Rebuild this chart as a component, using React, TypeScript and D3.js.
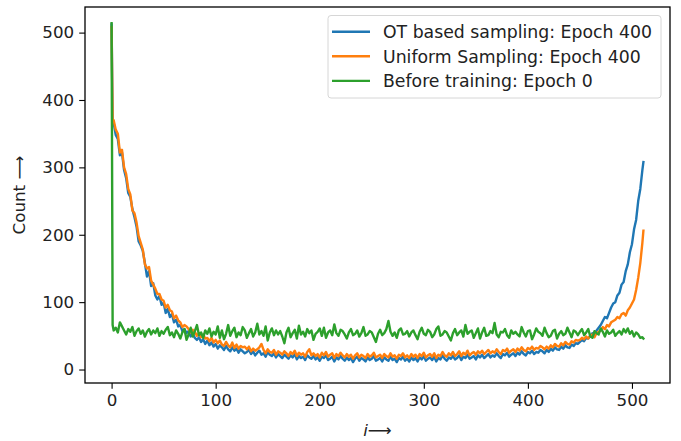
import * as d3 from 'd3';
import React, { useEffect, useRef } from 'react';

// sample positions (bin index i): 0, 1, 2, 4, ..., 510, 511
const xs = [0, 1, ...d3.range(2, 512, 2), 511];

const otSampling = [
  512, 372,
  366, 348, 342, 318, 322, 296, 284, 262, 256, 238, 226, 212, 190, 184, 176, 158,
  138, 146, 124, 128, 110, 104, 109, 96, 99, 84, 90, 78, 82, 70, 74, 64,
  66, 57, 60, 54, 57, 49, 53, 47, 44, 48, 41, 45, 38, 43, 36, 40,
  34, 38, 31, 36, 33, 29, 35, 30, 27, 33, 28, 31, 25, 30, 27, 24,
  26, 29, 23, 27, 21, 25, 28, 22, 24, 19, 26, 22, 20, 24, 18, 23,
  20, 17, 22, 19, 16, 21, 18, 23, 15, 20, 17, 19, 14, 21, 18, 16,
  20, 15, 18, 13, 19, 17, 21, 14, 16, 19, 12, 18, 15, 20, 16, 13,
  18, 14, 17, 11, 16, 19, 13, 17, 15, 12, 18, 14, 16, 20, 13, 15,
  17, 12, 18, 15, 13, 19, 14, 16, 11, 17, 15, 19, 13, 16, 12, 18,
  14, 17, 12, 18, 15, 20, 13, 16, 18, 14, 19, 12, 17, 15, 21, 16,
  13, 18, 16, 20, 15, 17, 21, 14, 19, 17, 22, 16, 18, 20, 15, 21,
  18, 22, 17, 20, 23, 18, 21, 19, 24, 20, 17, 23, 21, 25, 19, 22,
  24, 20, 25, 22, 27, 23, 21, 26, 24, 28, 23, 26, 25, 29, 27, 24,
  29, 26, 31, 28, 33, 30, 29, 34, 31, 36, 33, 32, 37, 35, 39, 38,
  41, 44, 42, 47, 46, 50, 54, 52, 58, 62, 66, 72, 78, 76, 84, 92,
  98, 100, 110, 114, 126, 130, 146, 156, 174, 186, 208, 222, 250, 268, 296,
  308,
];

const uniformSampling = [
  508, 368,
  370, 356, 350, 322, 326, 300, 290, 268, 260, 236, 232, 218, 198, 188, 178, 156,
  150, 152, 132, 126, 120, 112, 112, 104, 102, 92, 96, 88, 86, 76, 80, 73,
  70, 63, 66, 64, 60, 55, 59, 56, 50, 54, 48, 52, 46, 47, 42, 47,
  40, 44, 39, 43, 37, 35, 41, 36, 33, 40, 32, 37, 31, 35, 33, 34,
  30, 34, 27, 31, 28, 30, 33, 38, 29, 24, 30, 26, 25, 29, 22, 27,
  25, 22, 27, 24, 20, 26, 23, 28, 20, 25, 22, 24, 19, 26, 30, 21,
  24, 20, 23, 18, 25, 21, 26, 19, 22, 24, 17, 23, 20, 25, 21, 18,
  23, 19, 22, 16, 21, 24, 18, 22, 20, 17, 23, 19, 21, 25, 18, 20,
  22, 17, 23, 20, 18, 24, 19, 21, 16, 22, 20, 24, 18, 21, 17, 23,
  19, 22, 17, 23, 20, 25, 18, 21, 23, 19, 24, 17, 22, 20, 26, 21,
  19, 24, 21, 26, 20, 23, 27, 20, 25, 22, 28, 21, 24, 26, 22, 27,
  24, 28, 23, 26, 29, 24, 27, 25, 30, 26, 23, 29, 27, 31, 25, 28,
  30, 26, 31, 28, 33, 29, 27, 32, 30, 34, 29, 32, 31, 35, 33, 30,
  34, 31, 36, 33, 38, 35, 34, 39, 36, 41, 38, 37, 42, 40, 44, 43,
  44, 47, 45, 49, 46, 50, 52, 48, 54, 56, 58, 63, 60, 66, 64, 70,
  72, 74, 78, 76, 82, 84, 80, 88, 92, 98, 104, 118, 136, 158, 188,
  206,
];

const beforeTraining = [
  514, 66,
  58, 62, 55, 70, 64, 58, 52, 60, 56, 63, 50, 57, 61, 53, 58, 49,
  56, 60, 52, 58, 54, 61, 50, 57, 53, 59, 63, 51, 55, 48, 58, 53,
  46, 55, 60, 44, 52, 62, 49, 57, 66, 51, 55, 47, 58, 53, 61, 49,
  56, 52, 64, 47, 58, 45, 53, 66, 50, 57, 62, 48, 55, 51, 63, 58,
  47, 54, 60, 49, 55, 68, 52, 57, 50, 64, 43, 55, 61, 51, 58, 52,
  57, 49, 39, 55, 62, 48, 54, 59, 46, 65, 52, 56, 49, 60, 54, 58,
  44, 53, 56, 61, 50, 62, 47, 55, 58, 51, 67, 54, 50, 59, 57, 52,
  46, 55, 60, 51, 53, 58, 49, 54, 63, 50, 52, 57, 55, 48, 41, 53,
  59, 51, 54, 60, 72, 56, 50, 55, 47, 58, 61, 52, 53, 57, 49, 55,
  58, 51, 45, 56, 62, 53, 51, 59, 56, 48, 52, 60, 64, 50, 52, 57,
  55, 49, 43, 54, 60, 51, 55, 58, 49, 66, 53, 56, 58, 47, 54, 61,
  46, 55, 62, 50, 51, 57, 54, 69, 52, 48, 56, 55, 60, 51, 47, 58,
  53, 56, 52, 49, 63, 55, 49, 57, 58, 45, 52, 61, 56, 54, 50, 62,
  54, 48, 50, 57, 59, 46, 53, 57, 51, 53, 62, 55, 48, 58, 56, 51,
  56, 60, 51, 55, 60, 49, 47, 57, 54, 52, 61, 56, 49, 58, 53, 55,
  59, 50, 54, 57, 52, 60, 55, 61, 53, 57, 49, 55, 52, 47, 48,
  46,
];

const seriesNames = [
  'OT based sampling: Epoch 400',
  'Uniform Sampling: Epoch 400',
  'Before training: Epoch 0',
];
const seriesColors = ['#1f77b4', '#ff7f0e', '#2ca02c'];
const xTicks = [0, 100, 200, 300, 400, 500];
const yTicks = [0, 100, 200, 300, 400, 500];

const W = 681;
const H = 441;
const FONT = '"DejaVu Sans", sans-serif';
const FS = 16.7;
const LEGEND_FS = 17.3;

export default function App() {
  const ref = useRef<SVGSVGElement>(null);

  useEffect(() => {
    const svg = d3.select(ref.current);
    svg.selectAll('*').remove();

    const left = 85, right = 670, top = 7, bottom = 383;

    const x = d3.scaleLinear().domain([-25.55, 536.55]).range([left, right]);
    const y = d3.scaleLinear().domain([-20, 538]).range([bottom, top]);

    const series = [otSampling, uniformSampling, beforeTraining];

    const line = d3.line<[number, number]>()
      .x(d => x(d[0]))
      .y(d => y(d[1]));

    series.forEach((vals, k) => {
      const n = Math.min(vals.length, xs.length);
      const pts: [number, number][] = vals.slice(0, n).map((v, j) => [xs[j], v]);
      svg.append('path')
        .attr('d', line(pts))
        .attr('fill', 'none')
        .attr('stroke', seriesColors[k])
        .attr('stroke-width', 2.4)
        .attr('stroke-linejoin', 'round')
        .attr('stroke-linecap', 'square');
    });

    // axes
    const xAxis = svg.append('g')
      .attr('transform', `translate(0,${bottom})`)
      .call(d3.axisBottom(x).tickValues(xTicks).tickSize(5.8).tickPadding(5).tickSizeOuter(0));
    const yAxis = svg.append('g')
      .attr('transform', `translate(${left},0)`)
      .call(d3.axisLeft(y).tickValues(yTicks).tickSize(5.8).tickPadding(5).tickSizeOuter(0));

    [xAxis, yAxis].forEach(g => {
      g.select('.domain').remove();
      g.selectAll('line').attr('stroke', '#000').attr('stroke-width', 1.1);
      g.selectAll('text')
        .attr('font-family', FONT)
        .attr('font-size', FS)
        .attr('fill', '#222');
    });

    // frame
    svg.append('rect')
      .attr('x', left).attr('y', top)
      .attr('width', right - left).attr('height', bottom - top)
      .attr('fill', 'none').attr('stroke', '#000').attr('stroke-width', 1.3);

    // axis labels
    const xl = svg.append('text')
      .attr('x', (left + right) / 2)
      .attr('y', 436)
      .attr('text-anchor', 'middle')
      .attr('font-family', FONT)
      .attr('font-size', FS)
      .attr('fill', '#222');
    xl.append('tspan').attr('font-style', 'italic').text('i');
    xl.append('tspan').text('⟶');

    svg.append('text')
      .attr('transform', `translate(25,${(top + bottom) / 2}) rotate(-90)`)
      .attr('text-anchor', 'middle')
      .attr('font-family', FONT)
      .attr('font-size', FS)
      .attr('fill', '#222')
      .text('Count ⟶');

    // legend
    const lg = svg.append('g');
    lg.append('rect')
      .attr('x', 328).attr('y', 15.5)
      .attr('width', 333).attr('height', 82.5)
      .attr('rx', 3)
      .attr('fill', 'rgba(255,255,255,0.8)')
      .attr('stroke', '#d6d6d6')
      .attr('stroke-width', 1);

    seriesNames.forEach((name, k) => {
      const cy = 31.7 + k * 24.6;
      lg.append('line')
        .attr('x1', 332).attr('x2', 370)
        .attr('y1', cy).attr('y2', cy)
        .attr('stroke', seriesColors[k])
        .attr('stroke-width', 2.4);
      lg.append('text')
        .attr('x', 383).attr('y', cy)
        .attr('dy', '0.36em')
        .attr('font-family', FONT)
        .attr('font-size', LEGEND_FS)
        .attr('fill', '#222')
        .text(name);
    });
  }, []);

  return (
    <svg ref={ref} width={W} height={H} style={{ position: 'absolute', left: 0, top: 0, background: '#fff' }} />
  );
}
